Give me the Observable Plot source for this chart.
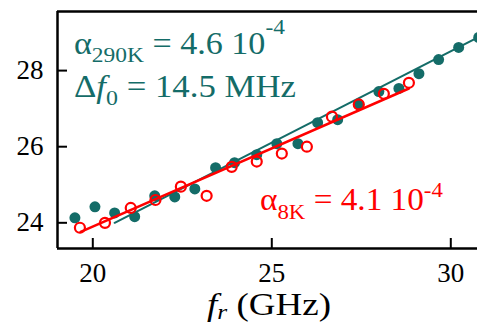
<!DOCTYPE html>
<html><head><meta charset="utf-8">
<script src="https://cdn.jsdelivr.net/npm/d3@7"></script>
<script src="https://cdn.jsdelivr.net/npm/@observablehq/plot@0.6"></script>
<style>body{margin:0;background:#fff;overflow:hidden} svg text, svg tspan{font-family:"Liberation Serif",serif !important}</style>
</head><body><div id="chart"></div>
<script>
// 290 K data (filled teal dots)
const f290K = [19.50, 20.06, 20.61, 21.17, 21.73, 22.29, 22.85, 23.43, 23.96, 24.58, 25.14, 25.73, 26.28, 26.84, 27.43, 27.99, 28.55, 29.11, 29.66, 30.22, 30.78];
const v290K = [24.13, 24.42, 24.26, 24.16, 24.71, 24.68, 24.89, 25.45, 25.58, 25.79, 26.08, 26.08, 26.63, 26.71, 27.11, 27.45, 27.53, 27.92, 28.29, 28.61, 28.87];
// 8 K data (open red circles)
const f8K = [19.64, 20.34, 21.06, 21.75, 22.46, 23.18, 23.88, 24.58, 25.28, 25.98, 26.68, 27.43, 28.13, 28.83];
const v8K = [23.87, 24.00, 24.39, 24.60, 24.95, 24.71, 25.47, 25.61, 25.82, 26.00, 26.79, 27.11, 27.39, 27.68];
// linear fits (end points)
const fit290K_f = [20.61, 30.75];
const fit290K_v = [24.00, 28.87];
const fit8K_f = [19.66, 28.83];
const fit8K_v = [23.76, 27.53];
const xTicks = [20, 25, 30];
const yTicks = [24, 26, 28];
const xDomain = [19.014, 30.746];
const yDomain = [23.325, 29.553];

const TEAL = "#146c68", RED = "#ff0000";
const W = 477, H = 325, mL = 57, mT = 11, mR = 0, mB = 77;
const font = "Liberation Serif";

const pts290 = f290K.map((f, i) => ({f, v: v290K[i]}));
const pts8 = f8K.map((f, i) => ({f, v: v8K[i]}));
const fit290 = fit290K_f.map((f, i) => ({f, v: fit290K_v[i]}));
const fit8 = fit8K_f.map((f, i) => ({f, v: fit8K_v[i]}));

const plot = Plot.plot({
  width: W, height: H,
  marginLeft: mL, marginTop: mT, marginRight: mR, marginBottom: mB,
  style: {fontFamily: font, background: "white", overflow: "visible"},
  x: {domain: xDomain, ticks: xTicks},
  y: {domain: yDomain, ticks: yTicks},
  marks: [
    Plot.line(fit290, {x: "f", y: "v", stroke: TEAL, strokeWidth: 2}),
    Plot.dot(pts290, {x: "f", y: "v", r: 5.5, fill: TEAL, stroke: "none"}),
    Plot.line(fit8, {x: "f", y: "v", stroke: RED, strokeWidth: 2.5}),
    Plot.dot(pts8, {x: "f", y: "v", r: 5, fill: "none", stroke: RED, strokeWidth: 2.2}),
    Plot.ruleX([xDomain[0]], {stroke: "black", strokeWidth: 2.5}),
    Plot.ruleY([yDomain[0], yDomain[1]], {stroke: "black", strokeWidth: 2.5}),
    Plot.tickX(xTicks, {x: d => d, stroke: "black", strokeWidth: 2, insetTop: (H - mT - mB) - 10}),
    Plot.tickY(yTicks, {y: d => d, stroke: "black", strokeWidth: 2, insetRight: (W - mL - mR) - 10}),
    Plot.axisX(xTicks, {tickSize: 0, tickPadding: 14, fontSize: 27, fill: "black", label: null}),
    Plot.axisY(yTicks, {tickSize: 0, tickPadding: 14, fontSize: 27, fill: "black", label: null})
  ]
});
document.getElementById("chart").appendChild(plot);

const svg = d3.select(plot);
function rich(x, y, targetW, color, parts) {
  const g = svg.append("g");
  const t = g.append("text").attr("x", 0).attr("y", 0).attr("fill", color)
    .attr("text-anchor", "start").attr("font-size", 32);
  for (const p of parts) {
    const s = t.append("tspan").text(p.t);
    if (p.size) s.attr("font-size", p.size);
    if (p.dy) s.attr("dy", p.dy);
    if (p.it) s.attr("font-style", "italic");
  }
  const w = t.node().getBBox().width;
  g.attr("transform", `translate(${x},${y}) scale(${targetW / w},1)`);
}
rich(74, 54, 211, TEAL, [{t: "α"}, {t: "290K", size: 22, dy: 8}, {t: " = 4.6 10", dy: -8}, {t: "-4", size: 22, dy: -20}]);
rich(74, 97, 222, TEAL, [{t: "Δ"}, {t: "f", it: true}, {t: "0", size: 22, dy: 8}, {t: " = 14.5 MHz", dy: -8}]);
rich(260, 210, 183, RED, [{t: "α"}, {t: "8K", size: 22, dy: 9}, {t: " = 4.1 10", dy: -9}, {t: "-4", size: 22, dy: -13}]);
rich(207, 315, 124, "black", [{t: "f", it: true}, {t: "r", size: 22, dy: 4, it: true}, {t: " (GHz)", dy: -4}]);
</script>
</body></html>
